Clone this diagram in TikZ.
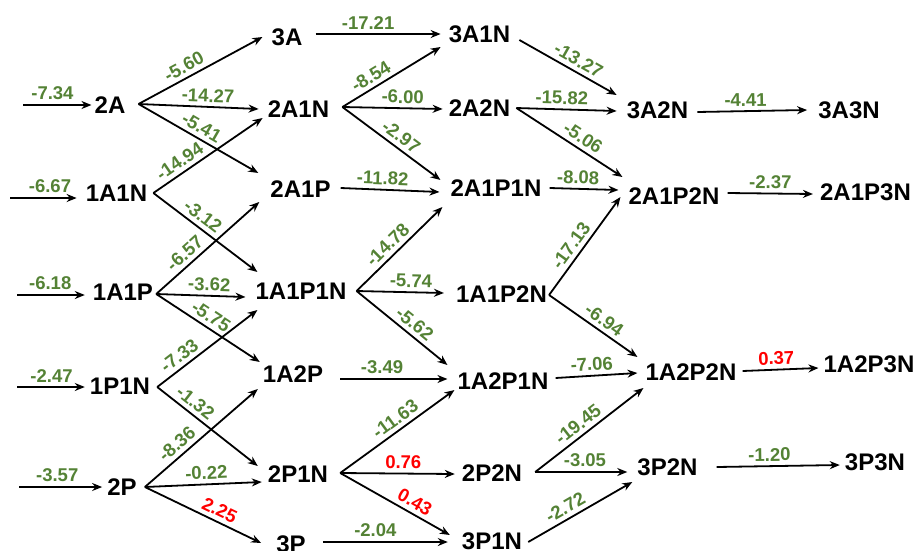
\documentclass[tikz,border=0pt]{standalone}
\usepackage{fontspec}
\setmainfont{Liberation Sans}
\usetikzlibrary{arrows.meta}
\definecolor{vgreen}{RGB}{84,130,53}
\definecolor{vred}{RGB}{255,0,0}
\begin{document}
\begin{tikzpicture}[x=1pt,y=-1pt,
  state/.style={inner sep=0pt, font=\fontsize{24}{24}\selectfont\bfseries},
  arr/.style={line width=1.8pt, -{Stealth[length=10pt,width=8pt]}},
  lbl/.style={inner sep=0pt, sloped, above=4pt, text=vgreen, font=\fontsize{18.5}{18.5}\selectfont\bfseries},
  lblr/.style={lbl, text=vred}]
\useasboundingbox (0,0) rectangle (916,550);
% column 1
\node[state] (n2A) at (110,105) {2A};
\node[state] (n1A1N) at (116.5,193) {1A1N};
\node[state] (n1A1P) at (123,292) {1A1P};
\node[state] (n1P1N) at (120,386) {1P1N};
\node[state] (n2P) at (122,487) {2P};
% column 2
\node[state] (n3A) at (287,37) {3A};
\node[state] (n2A1N) at (298.5,109) {2A1N};
\node[state] (n2A1P) at (300.5,189) {2A1P};
\node[state] (n1A1P1N) at (301,291) {1A1P1N};
\node[state] (n1A2P) at (293,374) {1A2P};
\node[state] (n2P1N) at (298,474) {2P1N};
\node[state] (n3P) at (291,544) {3P};
% column 3
\node[state] (n3A1N) at (479.5,34) {3A1N};
\node[state] (n2A2N) at (479.5,108) {2A2N};
\node[state] (n2A1P1N) at (496,188) {2A1P1N};
\node[state] (n1A1P2N) at (501.5,294) {1A1P2N};
\node[state] (n1A2P1N) at (503,381) {1A2P1N};
\node[state] (n2P2N) at (492,473) {2P2N};
\node[state] (n3P1N) at (492,541) {3P1N};
% column 4
\node[state] (n3A2N) at (657.5,110) {3A2N};
\node[state] (n2A1P2N) at (674,196) {2A1P2N};
\node[state] (n1A2P2N) at (691,372) {1A2P2N};
\node[state] (n3P2N) at (667.5,467) {3P2N};
% column 5
\node[state] (n3A3N) at (849,110) {3A3N};
\node[state] (n2A1P3N) at (865.5,192) {2A1P3N};
\node[state] (n1A2P3N) at (869,364) {1A2P3N};
\node[state] (n3P3N) at (875,462) {3P3N};
% inputs
\coordinate (i2A) at (23,105);
\coordinate (i1A1N) at (10,198);
\coordinate (i1A1P) at (17,295);
\coordinate (i1P1N) at (17,387);
\coordinate (i2P) at (19,487);
\draw[arr] (i2A) -- node[lbl,pos=.43]{-7.34} ([shift={(-3,0)}]n2A.west);
\draw[arr] (i1A1N) -- node[lbl,pos=.6]{-6.67} ([shift={(-9,5)}]n1A1N.west);
\draw[arr] (i1A1P) -- node[lbl,pos=.49]{-6.18} ([shift={(-8,3)}]n1A1P.west);
\draw[arr] (i1P1N) -- node[lbl,pos=.51]{-2.47} ([shift={(-5,1)}]n1P1N.west);
\draw[arr] (i2P) -- node[lbl,pos=.46]{-3.57} ([shift={(-5,0)}]n2P.west);
% column 1 -> 2
\draw[arr] ([shift={(13,-1)}]n2A.east) -- node[lbl,pos=.41]{-5.60} ([shift={(-9,0)}]n3A.west);
\draw[arr] ([shift={(13,-1)}]n2A.east) -- node[lbl,pos=.575]{-14.27} ([shift={(-9,0)}]n2A1N.west);
\draw[arr] ([shift={(13,-1)}]n2A.east) -- node[lbl,pos=.48]{-5.41} ([shift={(-12,-16)}]n2A1P.west);
\draw[arr] ([shift={(6,0)}]n1A1N.east) -- node[lbl,pos=.30]{-14.94} ([shift={(-5,9)}]n2A1N.west);
\draw[arr] ([shift={(6,0)}]n1A1N.east) -- node[lbl,pos=.41]{-3.12} ([shift={(2,-19)}]n1A1P1N.west);
\draw[arr] ([shift={(3,2)}]n1A1P.east) -- node[lbl,pos=.35]{-6.57} ([shift={(-11,13)}]n2A1P.west);
\draw[arr] ([shift={(3,2)}]n1A1P.east) -- node[lbl,pos=.59]{-3.62} ([shift={(-10,6)}]n1A1P1N.west);
\draw[arr] ([shift={(3,2)}]n1A1P.east) -- node[lbl,pos=.47]{-5.75} ([shift={(-3,-12)}]n1A2P.west);
\draw[arr] ([shift={(7,1)}]n1P1N.east) -- node[lbl,pos=.29]{-7.33} ([shift={(2,19)}]n1A1P1N.west);
\draw[arr] ([shift={(7,1)}]n1P1N.east) -- node[lbl,pos=.31]{-1.32} ([shift={(-10,-8)}]n2P1N.west);
\draw[arr] ([shift={(8,0)}]n2P.east) -- node[lbl,pos=.35]{-8.36} ([shift={(-5,15)}]n1A2P.west);
\draw[arr] ([shift={(8,0)}]n2P.east) -- node[lbl,pos=.53]{-0.22} ([shift={(-6,8)}]n2P1N.west);
\draw[arr] ([shift={(8,0)}]n2P.east) -- node[lblr,pos=.60]{2.25} ([shift={(-15,-1)}]n3P.west);
% column 2 -> 3
\draw[arr] ([shift={(13,-3)}]n3A.east) -- node[lbl,pos=.42]{-17.21} ([shift={(-8,0)}]n3A1N.west);
\draw[arr] ([shift={(13,-2)}]n2A1N.east) -- node[lbl,pos=.35]{-8.54} ([shift={(-8,13)}]n3A1N.west);
\draw[arr] ([shift={(13,-2)}]n2A1N.east) -- node[lbl,pos=.6]{-6.00} ([shift={(-6,1)}]n2A2N.west);
\draw[arr] ([shift={(13,-2)}]n2A1N.east) -- node[lbl,pos=.53]{-2.97} ([shift={(-10,-8)}]n2A1P1N.west);
\draw[arr] ([shift={(10,-1)}]n2A1P.east) -- node[lbl,pos=.42]{-11.82} ([shift={(-11,4)}]n2A1P1N.west);
\draw[arr] ([shift={(10,0)}]n1A1P1N.east) -- node[lbl,pos=.455]{-14.78} ([shift={(-8,19)}]n2A1P1N.west);
\draw[arr] ([shift={(10,0)}]n1A1P1N.east) -- node[lbl,pos=.62]{-5.74} ([shift={(-12,-1)}]n1A1P2N.west);
\draw[arr] ([shift={(10,0)}]n1A1P1N.east) -- node[lbl,pos=.56]{-5.62} ([shift={(-10,-16)}]n1A2P1N.west);
\draw[arr] ([shift={(17,5)}]n1A2P.east) -- node[lbl,pos=.39]{-3.49} ([shift={(-10,-2)}]n1A2P1N.west);
\draw[arr] ([shift={(12,-1)}]n2P1N.east) -- node[lbl,pos=.54]{-11.63} ([shift={(-3,9)}]n1A2P1N.west);
\draw[arr] ([shift={(12,-1)}]n2P1N.east) -- node[lblr,pos=.55]{0.76} ([shift={(-7,1)}]n2P2N.west);
\draw[arr] ([shift={(12,-1)}]n2P1N.east) -- node[lblr,pos=.63]{0.43} ([shift={(-12,-6)}]n3P1N.west);
\draw[arr] ([shift={(17,-2)}]n3P.east) -- node[lbl,pos=.42]{-2.04} ([shift={(-14,1)}]n3P1N.west);
% column 3 -> 4
\draw[arr] ([shift={(9,6)}]n3A1N.east) -- node[lbl,pos=.55]{-13.27} ([shift={(-10,-15)}]n3A2N.west);
\draw[arr] ([shift={(6,0)}]n2A2N.east) -- node[lbl,pos=.45]{-15.82} ([shift={(-10,1)}]n3A2N.west);
\draw[arr] ([shift={(6,0)}]n2A2N.east) -- node[lbl,pos=.57]{-5.06} ([shift={(-6,-19)}]n2A1P2N.west);
\draw[arr] ([shift={(8,0)}]n2A1P1N.east) -- node[lbl,pos=.41]{-8.08} ([shift={(-10,-6)}]n2A1P2N.west);
\draw[arr] ([shift={(2,1)}]n1A1P2N.east) -- node[lbl,pos=.435]{-17.13} ([shift={(-8,1)}]n2A1P2N.west);
\draw[arr] ([shift={(2,1)}]n1A1P2N.east) -- node[lbl,pos=.55]{-6.94} ([shift={(-8,-15)}]n1A2P2N.west);
\draw[arr] ([shift={(7,-3)}]n1A2P1N.east) -- node[lbl,pos=.45]{-7.06} ([shift={(-8,1)}]n1A2P2N.west);
\draw[arr] ([shift={(13,-1)}]n2P2N.east) -- node[lbl,pos=.46]{-19.45} ([shift={(-2,16)}]n1A2P2N.west);
\draw[arr] ([shift={(13,-1)}]n2P2N.east) -- node[lbl,pos=.54]{-3.05} ([shift={(-10,5)}]n3P2N.west);
\draw[arr] ([shift={(6,1)}]n3P1N.east) -- node[lbl,pos=.41]{-2.72} ([shift={(-5,15)}]n3P2N.west);
% column 4 -> 5
\draw[arr] ([shift={(9,2)}]n3A2N.east) -- node[lbl,pos=.44]{-4.41} ([shift={(-11,0)}]n3A3N.west);
\draw[arr] ([shift={(8,-3)}]n2A1P2N.east) -- node[lbl,pos=.5]{-2.37} ([shift={(-7,2)}]n2A1P3N.west);
\draw[arr] ([shift={(6,-1)}]n1A2P2N.east) -- node[lblr,pos=.45]{0.37} ([shift={(-5,4)}]n1A2P3N.west);
\draw[arr] ([shift={(19,0)}]n3P2N.east) -- node[lbl,pos=.43]{-1.20} ([shift={(-5,3)}]n3P3N.west);
\end{tikzpicture}
\end{document}
